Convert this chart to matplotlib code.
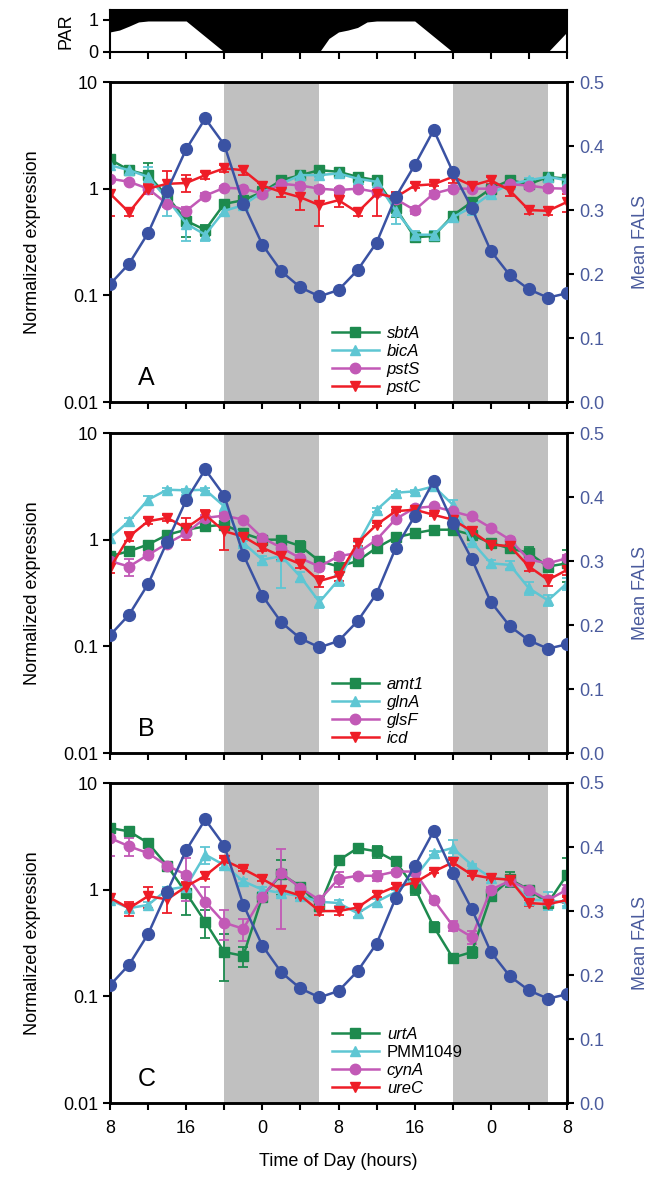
import matplotlib
matplotlib.use("agg")
from matplotlib import pyplot as plt
from matplotlib.ticker import MultipleLocator, FixedLocator, FuncFormatter, NullLocator

plt.rcParams['font.family'] = ['Liberation Sans', 'DejaVu Sans']

# sampling times, hours after 8:00 of day 1
hours = [0, 2, 4, 6, 8, 10, 12, 14, 16, 18, 20, 22, 24,
         26, 28, 30, 32, 34, 36, 38, 40, 42, 44, 46, 48]
xtick_pos = [0, 8, 16, 24, 32, 40, 48]
xtick_labels = ['8', '16', '0', '8', '16', '0', '8']
nights = [(12, 22), (36, 46)]

# light curve (top strip)
par_hours = [0, 1, 2, 3, 4, 8, 12, 22, 23, 24, 25, 26, 27, 28, 32, 36, 46, 48]
par = [0.62, 0.68, 0.8, 0.93, 0.96, 0.96, 0.0, 0.0, 0.42, 0.62, 0.68, 0.76, 0.93, 0.96, 0.96, 0.0, 0.0, 0.62]

# mean FALS (right axis, same in every panel)
fals = [0.184, 0.216, 0.264, 0.33, 0.395, 0.443, 0.402, 0.31, 0.246, 0.204, 0.179, 0.165, 0.175,
        0.206, 0.249, 0.32, 0.37, 0.425, 0.36, 0.303, 0.236, 0.198, 0.176, 0.163, 0.17]

# panel A
sbtA = [1.88, 1.49, 1.34, 0.85, 0.50, 0.41, 0.72, 0.78, 0.93, 1.2, 1.34, 1.49, 1.44,
        1.29, 1.2, 0.66, 0.35, 0.36, 0.56, 0.75, 1.0, 1.2, 1.1, 1.29, 1.24]
sbtA_err = [0.15, 0.1, 0.4, 0.15, 0.15, 0.05, 0.05, 0.05, 0.1, 0.05, 0.1, 0.05, 0.05,
            0.05, 0.1, 0.12, 0.03, 0.03, 0.05, 0.05, 0.05, 0.05, 0.05, 0.1, 0.05]
bicA = [1.66, 1.49, 1.29, 0.80, 0.47, 0.37, 0.62, 0.70, 0.93, 1.11, 1.34, 1.34, 1.39,
        1.24, 1.16, 0.62, 0.37, 0.37, 0.54, 0.67, 0.9, 1.1, 1.2, 1.29, 1.2]
bicA_err = [0.1, 0.05, 0.3, 0.25, 0.15, 0.05, 0.05, 0.05, 0.05, 0.05, 0.05, 0.05, 0.1,
            0.1, 0.05, 0.15, 0.03, 0.03, 0.05, 0.1, 0.05, 0.05, 0.05, 0.1, 0.1]
pstS = [1.24, 1.16, 1.0, 0.72, 0.62, 0.86, 1.02, 1.0, 0.9, 1.11, 1.07, 1.0, 0.97,
        1.0, 0.93, 0.8, 0.63, 0.90, 1.0, 1.0, 1.0, 1.1, 1.07, 1.01, 1.0]
pstS_err = [0.05, 0.05, 0.05, 0.05, 0.05, 0.05, 0.05, 0.05, 0.05, 0.05, 0.05, 0.05, 0.05,
            0.05, 0.05, 0.05, 0.05, 0.05, 0.05, 0.05, 0.05, 0.05, 0.05, 0.05, 0.05]
pstC = [0.90, 0.60, 1.0, 1.11, 1.13, 1.34, 1.55, 1.49, 1.07, 0.93, 0.83, 0.70, 0.78,
        0.60, 0.90, 0.83, 1.07, 1.10, 1.29, 1.07, 1.2, 0.96, 0.63, 0.62, 0.75]
pstC_err = [0.35, 0.05, 0.1, 0.35, 0.2, 0.1, 0.12, 0.15, 0.05, 0.1, 0.2, 0.25, 0.1,
            0.05, 0.35, 0.1, 0.05, 0.05, 0.15, 0.05, 0.1, 0.1, 0.05, 0.05, 0.15]

# panel B
amt1 = [0.70, 0.78, 0.90, 1.11, 1.24, 1.33, 1.38, 1.15, 1.0, 1.0, 0.87, 0.63, 0.56,
        0.63, 0.84, 1.05, 1.15, 1.24, 1.24, 1.11, 0.93, 0.83, 0.75, 0.56, 0.60]
amt1_err = [0.05, 0.05, 0.05, 0.05, 0.05, 0.05, 0.05, 0.05, 0.05, 0.05, 0.1, 0.05, 0.05,
            0.05, 0.05, 0.05, 0.05, 0.05, 0.05, 0.05, 0.05, 0.05, 0.1, 0.05, 0.2]
glnA = [1.04, 1.49, 2.37, 2.94, 2.9, 2.94, 2.05, 0.93, 0.65, 0.70, 0.45, 0.26, 0.42,
        0.9, 1.9, 2.75, 2.84, 3.16, 2.13, 0.96, 0.60, 0.58, 0.35, 0.27, 0.39]
glnA_err = [0.1, 0.1, 0.2, 0.1, 0.1, 0.1, 0.3, 0.05, 0.05, 0.35, 0.05, 0.03, 0.05,
            0.05, 0.1, 0.1, 0.1, 0.1, 0.2, 0.05, 0.05, 0.05, 0.05, 0.03, 0.05]
glsF = [0.63, 0.56, 0.72, 0.92, 1.15, 1.6, 1.68, 1.54, 1.04, 0.84, 0.67, 0.56, 0.70,
        0.75, 1.0, 1.56, 1.98, 2.05, 1.84, 1.65, 1.29, 1.0, 0.65, 0.60, 0.67]
glsF_err = [0.05, 0.1, 0.05, 0.05, 0.05, 0.1, 0.1, 0.05, 0.05, 0.05, 0.05, 0.05, 0.05,
            0.05, 0.05, 0.05, 0.05, 0.05, 0.05, 0.05, 0.05, 0.05, 0.05, 0.05, 0.05]
icd = [0.54, 1.07, 1.49, 1.6, 1.29, 1.71, 1.2, 1.07, 0.84, 0.70, 0.59, 0.41, 0.46,
       0.93, 1.38, 1.85, 1.91, 1.71, 1.54, 1.2, 0.90, 0.87, 0.56, 0.42, 0.52]
icd_err = [0.05, 0.1, 0.1, 0.1, 0.3, 0.2, 0.4, 0.05, 0.05, 0.05, 0.05, 0.05, 0.05,
           0.05, 0.05, 0.05, 0.05, 0.05, 0.05, 0.05, 0.05, 0.05, 0.05, 0.05, 0.05]

# panel C
urtA = [3.78, 3.52, 2.74, 1.68, 0.93, 0.50, 0.26, 0.24, 0.86, 1.4, 1.07, 0.70, 1.88,
        2.45, 2.29, 1.84, 1.04, 0.45, 0.23, 0.26, 0.87, 1.25, 1.0, 0.75, 1.38]
urtA_err = [0.1, 0.1, 0.1, 0.1, 0.35, 0.15, 0.12, 0.05, 0.05, 0.5, 0.05, 0.05, 0.1,
            0.1, 0.3, 0.1, 0.15, 0.05, 0.02, 0.03, 0.05, 0.2, 0.05, 0.05, 0.6]
PMM1049 = [0.80, 0.67, 0.72, 1.0, 1.07, 2.13, 1.7, 1.2, 1.0, 0.93, 0.87, 0.77, 0.75,
           0.6, 0.77, 0.95, 1.3, 2.2, 2.46, 1.7, 1.3, 1.24, 0.8, 0.8, 0.75]
PMM1049_err = [0.05, 0.05, 0.05, 0.05, 0.05, 0.4, 0.1, 0.05, 0.05, 0.05, 0.05, 0.05, 0.05,
               0.05, 0.05, 0.05, 0.05, 0.1, 0.45, 0.05, 0.05, 0.05, 0.05, 0.15, 0.05]
cynA = [3.05, 2.55, 2.2, 1.68, 1.38, 0.77, 0.49, 0.43, 0.86, 1.43, 1.04, 0.8, 1.26,
        1.35, 1.35, 1.48, 1.48, 0.8, 0.46, 0.36, 1.0, 1.21, 1.0, 0.8, 1.0]
cynA_err = [1.0, 0.5, 0.1, 0.1, 0.6, 0.3, 0.15, 0.1, 0.05, 1.0, 0.1, 0.05, 0.2,
            0.05, 0.15, 0.05, 0.05, 0.05, 0.05, 0.05, 0.05, 0.1, 0.05, 0.05, 0.1]
ureC = [0.84, 0.67, 0.87, 0.81, 1.07, 1.35, 1.88, 1.56, 1.26, 1.0, 0.88, 0.63, 0.63,
        0.68, 0.9, 1.07, 1.16, 1.48, 1.8, 1.38, 1.28, 1.24, 0.75, 0.73, 0.8]
ureC_err = [0.08, 0.1, 0.2, 0.2, 0.1, 0.1, 0.1, 0.05, 0.05, 0.05, 0.05, 0.05, 0.05,
            0.05, 0.05, 0.05, 0.05, 0.05, 0.1, 0.05, 0.05, 0.05, 0.05, 0.05, 0.05]

GREEN = '#1d8a4e'
CYAN = '#5ec6d3'
MAGENTA = '#c259b6'
RED = '#ee1d27'
BLUE = '#3a52a3'
BLUE_TXT = '#4a5b9d'

W, H = 658, 1180
fig = plt.figure(figsize=(W / 100, H / 100), dpi=100)


def rect(top, bottom, left=110, right=567):
    return [left / W, 1 - bottom / H, (right - left) / W, (bottom - top) / H]


def style_x(ax, labels):
    ax.set_xlim(0, 48)
    ax.xaxis.set_major_locator(FixedLocator(xtick_pos))
    ax.xaxis.set_minor_locator(MultipleLocator(4))
    if labels:
        ax.set_xticklabels(xtick_labels)
    else:
        ax.set_xticklabels([])
    ax.tick_params(axis='x', which='both', direction='out', length=5, width=1.5,
                   labelsize=13, pad=7)


# PAR strip
axp = fig.add_axes(rect(10, 52))
axp.fill_between(par_hours, par, 1.3, color='black', lw=0)
axp.set_ylim(0, 1.3)
axp.set_yticks([0, 1])
axp.set_ylabel('PAR', fontsize=13, labelpad=10)
style_x(axp, False)
axp.tick_params(axis='y', direction='out', length=5, width=1.5, labelsize=13)
for s in axp.spines.values():
    s.set_linewidth(1.5)


def panel(top, bottom, genes, letter, show_x):
    ax = fig.add_axes(rect(top, bottom))
    for a, b in nights:
        ax.axvspan(a, b, color='#c0c0c0', lw=0, zorder=0)
    handles = []
    for name, vals, errs, color, marker, ms in genes:
        c = ax.errorbar(hours, vals, yerr=errs, color=color, marker=marker, ms=ms,
                        lw=1.8, elinewidth=1.3, capsize=3.5, capthick=1.3, zorder=3)
        handles.append(c[0])
    ax.set_yscale('log')
    ax.set_ylim(0.01, 10)
    ax.yaxis.set_major_locator(FixedLocator([0.01, 0.1, 1, 10]))
    ax.yaxis.set_minor_locator(NullLocator())
    ax.yaxis.set_major_formatter(FuncFormatter(lambda v, p: '%g' % v))
    ax.tick_params(axis='y', direction='out', length=5, width=1.5, labelsize=13)
    ax.set_ylabel('Normalized expression', fontsize=13, labelpad=16)
    style_x(ax, show_x)
    for s in ax.spines.values():
        s.set_linewidth(1.8)

    leg = ax.legend(handles, [g[0] for g in genes], loc='lower left',
                    bbox_to_anchor=(0.46, -0.015), frameon=False, fontsize=12,
                    handlelength=2.8, handletextpad=0.5, labelspacing=0.18, borderpad=0.2)
    for t, g in zip(leg.get_texts(), genes):
        if g[0] != 'PMM1049':
            t.set_style('italic')
    ax.text(0.08, 0.075, letter, transform=ax.transAxes, fontsize=18,
            ha='center', va='center')

    ax2 = ax.twinx()
    ax2.plot(hours, fals, color=BLUE, marker='o', ms=8.5, lw=1.8, zorder=4)
    ax2.set_ylim(0, 0.5)
    ax2.yaxis.set_major_locator(MultipleLocator(0.1))
    ax2.yaxis.set_major_formatter(FuncFormatter(lambda v, p: '%.1f' % v))
    ax2.tick_params(axis='y', direction='out', length=5, width=1.5, labelsize=13,
                    labelcolor=BLUE_TXT)
    ax2.set_ylabel('Mean FALS', fontsize=13, color=BLUE_TXT, labelpad=20)
    for s in ax2.spines.values():
        s.set_linewidth(1.8)
    return ax


panel(82, 402, [('sbtA', sbtA, sbtA_err, GREEN, 's', 6.5),
                ('bicA', bicA, bicA_err, CYAN, '^', 7.5),
                ('pstS', pstS, pstS_err, MAGENTA, 'o', 7.5),
                ('pstC', pstC, pstC_err, RED, 'v', 7.5)], 'A', False)
panel(433, 753, [('amt1', amt1, amt1_err, GREEN, 's', 6.5),
                 ('glnA', glnA, glnA_err, CYAN, '^', 7.5),
                 ('glsF', glsF, glsF_err, MAGENTA, 'o', 7.5),
                 ('icd', icd, icd_err, RED, 'v', 7.5)], 'B', False)
axc = panel(783, 1103, [('urtA', urtA, urtA_err, GREEN, 's', 6.5),
                        ('PMM1049', PMM1049, PMM1049_err, CYAN, '^', 7.5),
                        ('cynA', cynA, cynA_err, MAGENTA, 'o', 7.5),
                        ('ureC', ureC, ureC_err, RED, 'v', 7.5)], 'C', True)
axc.set_xlabel('Time of Day (hours)', fontsize=13, labelpad=12)

fig.savefig('out.png', dpi=100)
